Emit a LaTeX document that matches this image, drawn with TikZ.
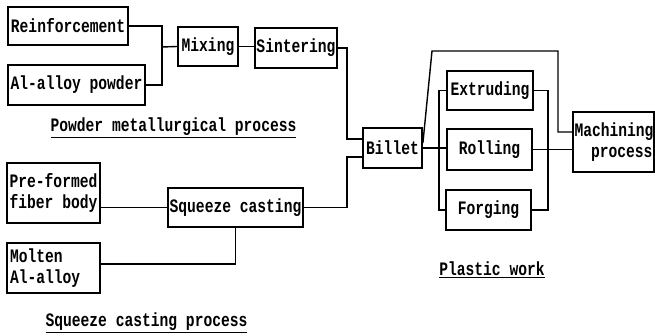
\documentclass[tikz,border=0pt]{standalone}
\usepackage{fontspec}
\newfontfamily\plfont[FakeStretch=0.77]{Liberation Mono}
\usetikzlibrary{positioning}

\tikzset{
  box/.style={draw,line width=1.8pt,inner sep=0pt,font=\plfont\bfseries\fontsize{19}{21}\selectfont},
  proclabel/.style={font=\plfont\bfseries\fontsize{19}{21}\selectfont},
  link/.style={line width=1.4pt}
}

\begin{document}
\begin{tikzpicture}[x=1pt,y=-1pt]
\useasboundingbox (0,0) rectangle (655,336);
% Powder metallurgical process
\node[box,minimum width=120pt,minimum height=38pt] (reinf) at (68,26) {Reinforcement};
\node[box,minimum width=137pt,minimum height=40pt] (alpow) at (76.5,85) {Al-alloy powder};
\node[box,minimum width=60pt,minimum height=39pt] (mix) at (208,46.5) {Mixing};
\node[box,minimum width=82pt,minimum height=40pt] (sinter) at (296,48) {Sintering};
\node[proclabel] (pmlabel) at (173.5,128) {\underline{Powder metallurgical process}};
% Squeeze casting process
\node[box,minimum width=93pt,minimum height=60pt,align=left] (preform) at (53.5,193) {Pre-formed\\fiber body};
\node[box,minimum width=135pt,minimum height=39pt] (squeeze) at (235.5,207.5) {Squeeze casting};
\node[box,minimum width=93pt,minimum height=50pt,text width=87pt,align=left] (molten) at (53.5,268) {Molten\\Al-alloy};
\node[proclabel] (sclabel) at (146.5,323) {\underline{Squeeze casting process}};
% Plastic work
\node[box,minimum width=59pt,minimum height=40pt] (billet) at (392.5,148) {Billet};
\node[box,minimum width=86pt,minimum height=39pt] (extrude) at (490,90.5) {Extruding};
\node[box,minimum width=85pt,minimum height=41pt] (roll) at (489.5,149.5) {Rolling};
\node[box,minimum width=85pt,minimum height=40pt] (forge) at (488.5,210) {Forging};
\node[box,minimum width=81pt,minimum height=60pt,text width=78pt,align=right] (mach) at (613.5,142) {Machining\\process};
\node[proclabel] (pwlabel) at (492,270) {\underline{Plastic work}};

\coordinate (j1) at (162,47);
\coordinate (inA) at (363,139);
\coordinate (inB) at (363,157);
\coordinate (busL) at (347,148);
\coordinate (busR) at (439,148);
\coordinate (busM) at (548,150);
\coordinate (top) at (432,51);
\coordinate (machin) at (573,132);

\draw[link] (reinf.east) -| (j1) |- (alpow.east);
\draw[link] (j1) -- (mix.west);
\draw[link] (mix.east) -- (mix.east -| sinter.west);
\draw[link] (sinter.east) -| (busL |- inA) -- (inA);
\draw[link] (preform.east |- squeeze.west) -- (squeeze.west);
\draw[link] ([yshift=4pt]molten.east) -| (squeeze.south);
\draw[link] (squeeze.east) -| (busL |- inB) -- (inB);
\draw[link] (billet.east) -- (billet.east -| roll.west);
\draw[link] (extrude.west) -| (busR) |- (forge.west);
\draw[link] (extrude.east) -| (busM) |- (forge.east);
\draw[link] (roll.east) -- (roll.east -| mach.west);
\draw[link] ([yshift=5pt]billet.east) -- (top) -| ([xshift=-15pt]machin) -- (machin);
\end{tikzpicture}
\end{document}
